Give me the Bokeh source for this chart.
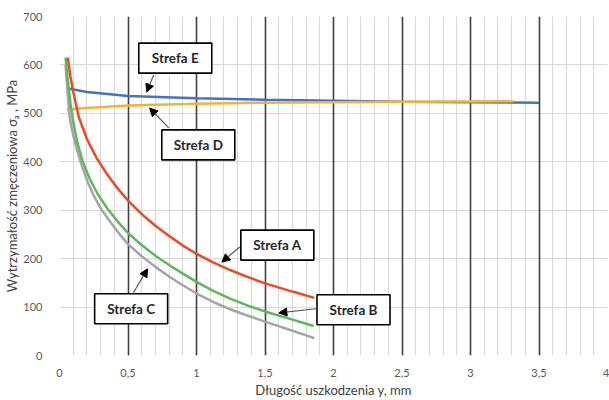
from bokeh.plotting import figure
from bokeh.models import (FixedTicker, Grid, Arrow, NormalHead, ColumnDataSource, Range1d)
from bokeh.core.properties import value
from bokeh.embed import file_html
from bokeh.resources import INLINE

# ---- data ----
a_x = [0.061, 0.08, 0.1, 0.14, 0.2, 0.27, 0.35, 0.43, 0.5, 0.6, 0.7, 0.8, 0.9, 1.0,
       1.125, 1.25, 1.375, 1.5, 1.7, 1.86]
a_y = [615, 575, 545, 493, 447, 408, 373, 343, 320, 292, 268, 247, 227, 210,
       192, 176, 162, 149, 132, 119]

b_x = [0.044, 0.06, 0.08, 0.1, 0.13, 0.17, 0.22, 0.28, 0.35, 0.43, 0.5, 0.6, 0.7, 0.8,
       0.9, 1.0, 1.125, 1.25, 1.375, 1.5, 1.7, 1.855]
b_y = [615, 570, 520, 482, 440, 400, 365, 333, 303, 275, 253, 228, 206, 187,
       169, 152, 133, 117, 103, 91, 74, 61]

c_x = [0.044, 0.055, 0.073, 0.1, 0.127, 0.165, 0.207, 0.25, 0.305, 0.37, 0.44, 0.5,
       0.6, 0.7, 0.8, 0.9, 1.0, 1.125, 1.25, 1.375, 1.5, 1.7, 1.86]
c_y = [600, 560, 493, 455, 425, 390, 357, 330, 302, 276, 250, 230,
       205, 183, 163, 145, 128, 110, 95, 82, 70, 51, 36]

d_x = [0.054, 0.2, 0.5, 1.0, 1.5, 2.0, 2.5, 3.31]
d_y = [508, 511, 516, 520, 522, 523, 524, 525]

e_x = [0.054, 0.2, 0.5, 1.0, 1.5, 2.0, 2.5, 3.0, 3.5]
e_y = [552, 544, 536, 531, 528, 526, 524, 523, 522]

x_ticks = [0, 0.5, 1, 1.5, 2, 2.5, 3, 3.5, 4]
x_tick_labels = ["0", "0,5", "1", "1,5", "2", "2,5", "3", "3,5", "4"]
x_minor = [i / 10 for i in range(0, 41)]
y_ticks = [0, 100, 200, 300, 400, 500, 600, 700]

# annotation boxes: label, centre (x, y), arrow start, arrow end
box_labels = ["Strefa E", "Strefa D", "Strefa A", "Strefa C", "Strefa B"]
box_x = [0.845, 1.013, 1.59, 0.523, 2.146]
box_y = [614, 435, 228, 96.5, 94.4]
arr_x0 = [0.687, 0.797, 1.316, 0.534, 1.872]
arr_y0 = [579, 470, 224, 127, 96.5]
arr_x1 = [0.636, 0.658, 1.185, 0.643, 1.601]
arr_y1 = [544, 511, 193, 179, 88]

FONT = "Lato"

p = figure(width=609, height=400, output_backend="svg", toolbar_location=None,
           x_range=Range1d(0, 4), y_range=Range1d(0, 700),
           min_border_left=59, min_border_right=2, min_border_top=16, min_border_bottom=43)
p.outline_line_color = None
p.background_fill_color = "white"
p.border_fill_color = "white"

# axes
p.xaxis.ticker = FixedTicker(ticks=x_ticks)
p.xaxis.major_label_overrides = {t: l for t, l in zip(x_ticks, x_tick_labels)}
p.yaxis.ticker = FixedTicker(ticks=y_ticks)
for ax in (p.xaxis, p.yaxis):
    ax.axis_line_color = None
    ax.major_tick_line_color = None
    ax.minor_tick_line_color = None
    ax.major_label_text_font = FONT
    ax.major_label_text_font_size = "11px"
    ax.major_label_text_color = "#595959"
    ax.axis_label_text_font = FONT
    ax.axis_label_text_font_size = "13px"
    ax.axis_label_text_font_style = "normal"
    ax.axis_label_text_color = "#404040"
p.xaxis.major_label_standoff = 7
p.yaxis.major_label_standoff = 11
p.xaxis.axis_label = "Długość uszkodzenia y, mm"
p.yaxis.axis_label = "Wytrzymałość zmęczeniowa σₐ , MPa"
p.xaxis.axis_label_standoff = 2
p.yaxis.axis_label_standoff = 0

# grids
p.xgrid.grid_line_color = "#d9d9d9"
p.xgrid.grid_line_width = 1
p.ygrid.grid_line_color = "#d9d9d9"
p.ygrid.grid_line_width = 1
minor_x = Grid(dimension=0, ticker=FixedTicker(ticks=x_minor),
               grid_line_color="#d9d9d9", grid_line_width=1)
dark_x = Grid(dimension=0, ticker=FixedTicker(ticks=x_ticks[1:]),
              grid_line_color="#404040", grid_line_width=1.6)
dark_top = Grid(dimension=1, ticker=FixedTicker(ticks=[y_ticks[-1]]),
                grid_line_color="#595959", grid_line_width=1.6)
p.add_layout(minor_x)
p.add_layout(dark_x)
p.add_layout(dark_top)

# curves
p.line(e_x, e_y, line_color="#4472c4", line_width=2.5)
p.line(d_x, d_y, line_color="#f5b335", line_width=2.5)
p.line(c_x, c_y, line_color="#a5a5a5", line_width=2.5)
p.line(b_x, b_y, line_color="#5cb85c", line_width=2.5)
p.line(a_x, a_y, line_color="#ec4a24", line_width=2.5)

# arrows
for x0, y0, x1, y1 in zip(arr_x0, arr_y0, arr_x1, arr_y1):
    p.add_layout(Arrow(x_start=x0, y_start=y0, x_end=x1, y_end=y1,
                       line_color="#595959", line_width=1.2,
                       end=NormalHead(size=8, fill_color="black", line_color="black")))

# boxes
src = ColumnDataSource(dict(x=box_x, y=box_y, t=box_labels))
p.rect(x="x", y="y", width=73, height=30, width_units="screen", height_units="screen",
       source=src, fill_color="white", line_color="black", line_width=1.6)
p.text(x="x", y="y", text="t", source=src, text_align="center", text_baseline="middle",
       text_font=value(FONT), text_font_style="bold", text_font_size="13.5px",
       text_color="#262626")

open("out.html", "w").write(file_html(p, INLINE))
